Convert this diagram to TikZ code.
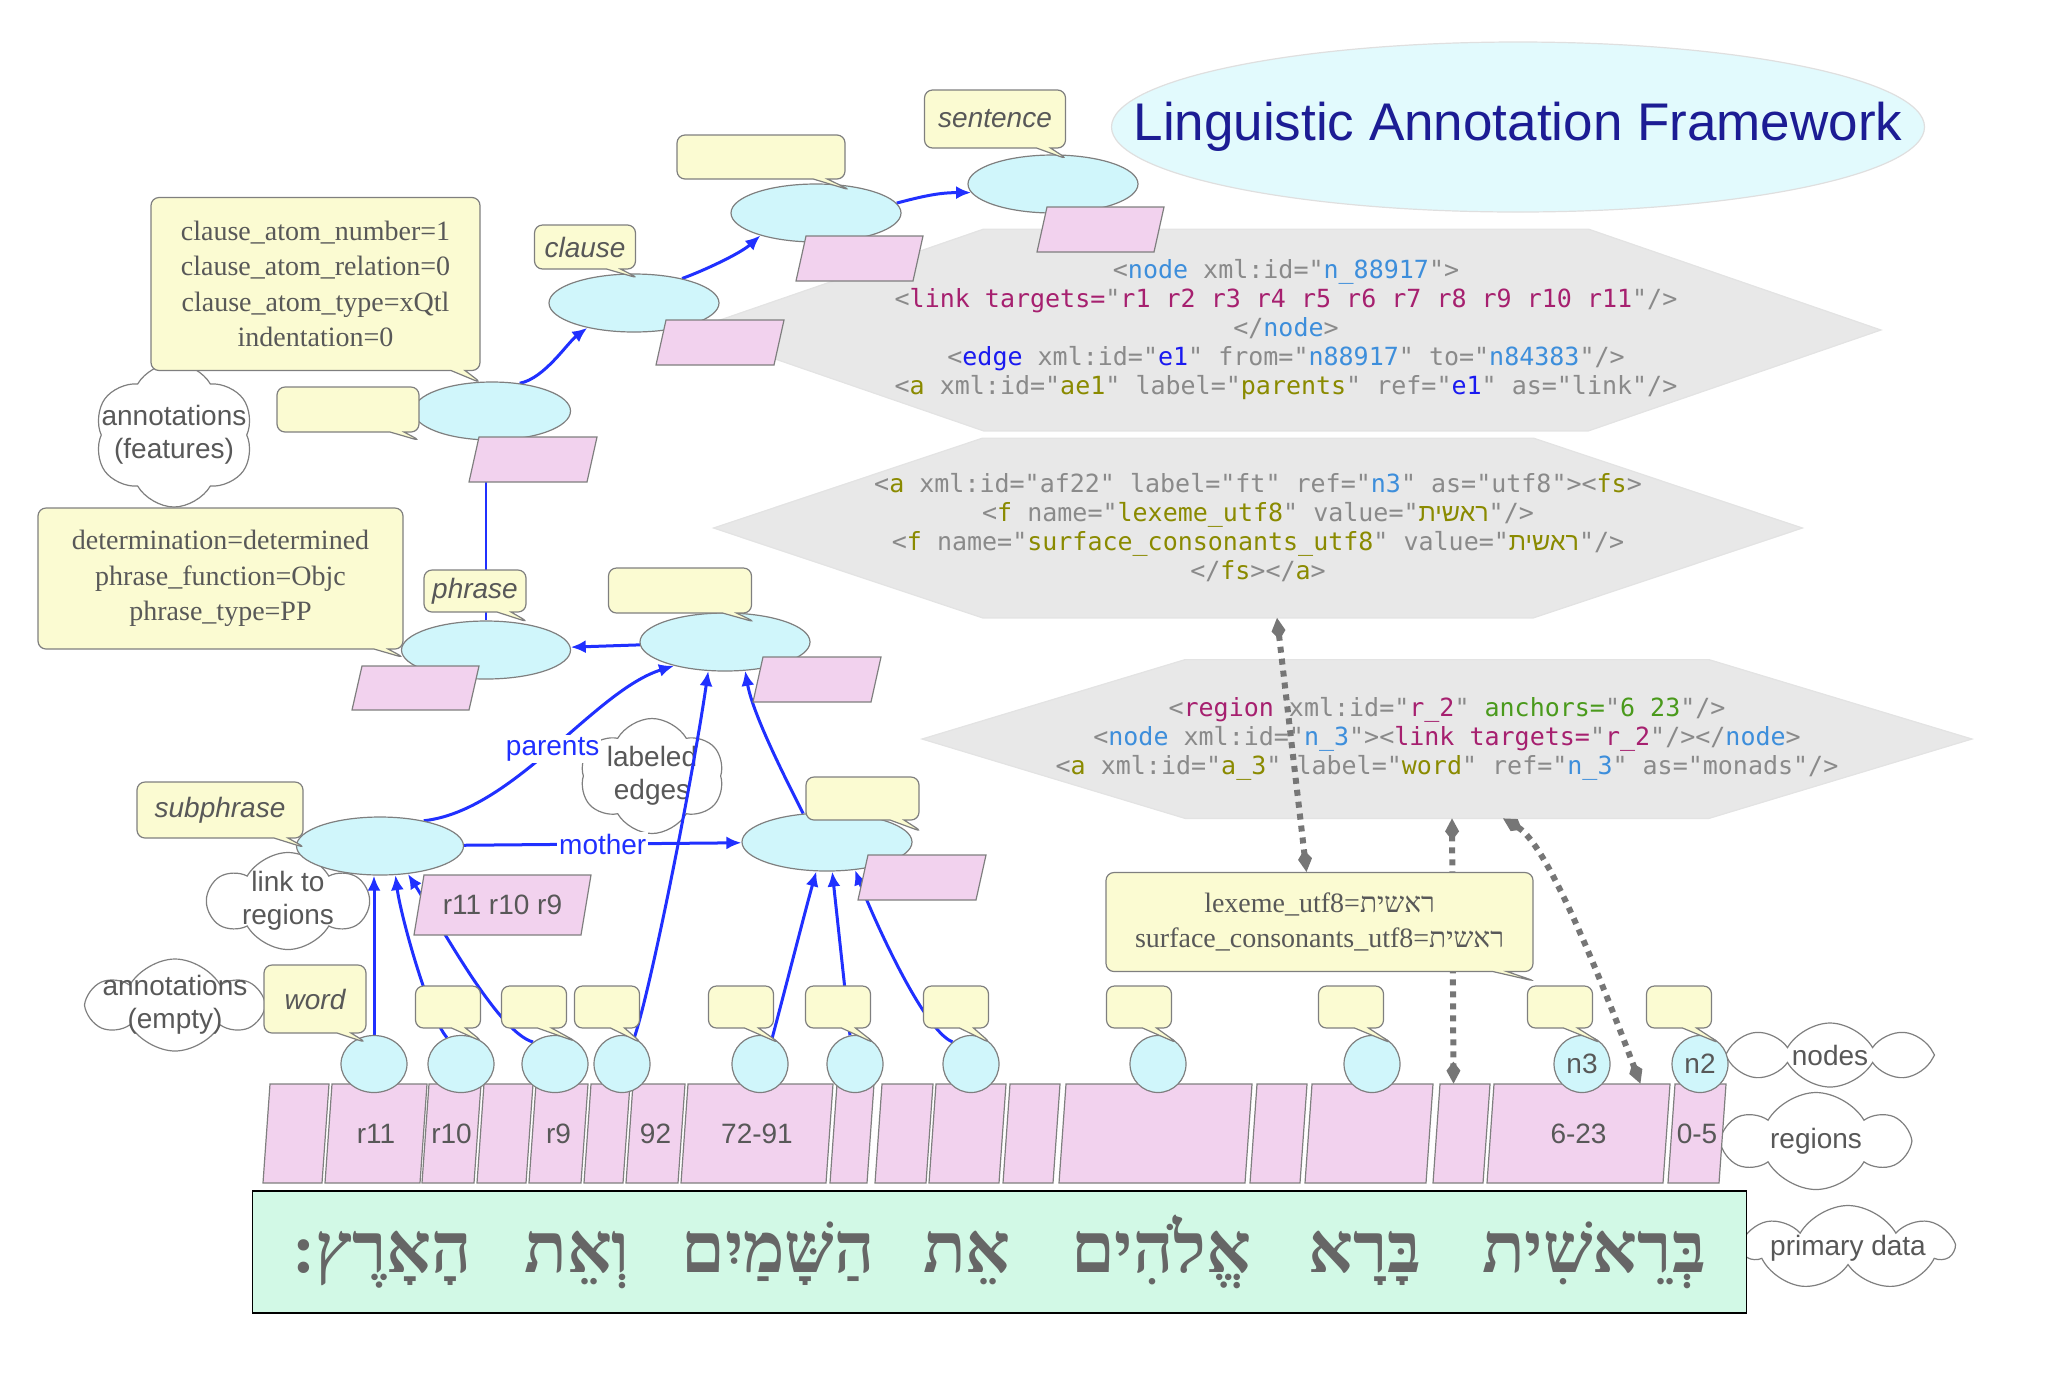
\documentclass[tikz,border=0pt]{standalone}
\usepackage{fontspec}
\setmainfont{Liberation Serif}
\setsansfont{Liberation Sans}
\setmonofont{DejaVu Sans Mono}
\newfontfamily\hebsans[Script=Hebrew]{Liberation Sans}
\newfontfamily\hebserif[Script=Hebrew]{Liberation Serif}
\TeXXeTstate=1
\usetikzlibrary{arrows.meta,positioning,shapes.geometric,shapes.symbols,shapes.callouts}

\pgfdeclarelayer{back}
\pgfdeclarelayer{mid}
\pgfdeclarelayer{wires}
\pgfdeclarelayer{front}
\pgfsetlayers{back,mid,wires,main,front}

\definecolor{nodecyan}{HTML}{D0F6FB}
\definecolor{annyellow}{HTML}{FBFBD2}
\definecolor{regpink}{HTML}{F2D2EE}
\definecolor{hexgray}{HTML}{E8E8E8}
\definecolor{titlecyan}{HTML}{E2FAFD}
\definecolor{textmint}{HTML}{D2F9E6}
\definecolor{rimgray}{HTML}{7F7F7F}
\definecolor{labgray}{HTML}{585858}
\definecolor{hebgray}{HTML}{666666}
\definecolor{edgeblue}{HTML}{2030FF}
\definecolor{titleblue}{HTML}{1C1C94}
\definecolor{dotgray}{HTML}{767676}
\definecolor{codegray}{HTML}{8A8A8A}
\definecolor{codeblue}{HTML}{3D8EDB}
\definecolor{codeedge}{HTML}{1A1AF0}
\definecolor{codemag}{HTML}{A6206F}
\definecolor{codeolive}{HTML}{8A8A00}
\definecolor{codegreen}{HTML}{4A9A1C}

\newcommand{\codeg}[1]{\textcolor{codegray}{#1}}
\newcommand{\codeb}[1]{\textcolor{codeblue}{#1}}
\newcommand{\codee}[1]{\textcolor{codeedge}{#1}}
\newcommand{\codem}[1]{\textcolor{codemag}{#1}}
\newcommand{\codeo}[1]{\textcolor{codeolive}{#1}}
\newcommand{\coden}[1]{\textcolor{codegreen}{#1}}
\newcommand{\rashit}{{\hebsans\beginR ראשית\endR}}

\begin{document}
\begin{tikzpicture}[x=0.5pt, y=-0.5pt, every node/.style={align=center},
  unit/.style={ellipse, draw=rimgray, fill=nodecyan, line width=0.6pt, minimum width=85pt, minimum height=29pt, inner sep=0pt},
  wordunit/.style={unit, minimum height=28.5pt, font=\sffamily\fontsize{14}{16}\selectfont, text=labgray},
  regshape/.style={draw=rimgray, fill=regpink, line width=0.6pt},
  regtext/.style={rectangle, inner sep=0pt, font=\sffamily\fontsize{14}{16}\selectfont, text=labgray},
  ann/.style={rectangle callout, rounded corners=4pt, draw=rimgray, fill=annyellow, line width=0.6pt, callout pointer width=7pt, inner sep=0pt, text=labgray},
  tag/.style={ann, font=\sffamily\itshape\fontsize{14}{16}\selectfont},
  feat/.style={ann, font=\rmfamily\fontsize{14}{17.8}\selectfont},
  note/.style={cloud, cloud puffs=6, cloud puff arc=120, cloud ignores aspect, draw=rimgray, fill=white, line width=0.6pt, inner sep=0pt},
  notetext/.style={text=labgray, font=\sffamily\fontsize{14}{16.5}\selectfont, align=center},
  xmlcode/.style={inner sep=0pt, font=\ttfamily\fontsize{12.5}{14.5}\selectfont},
  hexfill/.style={fill=hexgray, draw=gray!22, line width=0.6pt},
  blueedge/.style={draw=edgeblue, line width=1.5pt, -{Latex[length=7.5pt,width=6.5pt]}},
  edgetext/.style={fill=white, inner sep=1pt, text=edgeblue, font=\sffamily\fontsize{14}{16}\selectfont},
  anchorlink/.style={draw=dotgray, line width=3pt, dash pattern=on 3pt off 3pt, {Kite[length=11pt,width=7pt,inset=4.5pt]}-{Kite[length=11pt,width=7pt,inset=4.5pt]}},
  hebword/.style={anchor=base, inner sep=0pt, text=hebgray, font=\hebserif\bfseries\fontsize{35}{40}\selectfont}]
  \useasboundingbox (0,0) rectangle (2048,1383);

  \node[ellipse, fill=titlecyan, draw=gray!25, line width=0.6pt, minimum width=406.5pt, minimum height=85pt, inner sep=0pt,
    label={[text=titleblue, font=\sffamily\fontsize{26.5}{30}\selectfont]center:Linguistic Annotation Framework}] (title) at (1518,127) {};

  \begin{pgfonlayer}{mid}
  \node[xmlcode, minimum height=100.5pt] (hex1) at (1286,330)
    {\codeg{<}\codeb{node}\codeg{\ xml:id="}\codeb{n\_88917}\codeg{">}\\
     \codeg{<}\codem{link targets=}\codeg{"}\codem{r1 r2 r3 r4 r5 r6 r7 r8 r9 r10 r11}\codeg{"/>}\\
     \codeg{</}\codeb{node}\codeg{>}\\
     \codeg{<}\codee{edge}\codeg{\ xml:id="}\codee{e1}\codeg{" from="}\codeb{n88917}\codeg{" to="}\codeb{n84383}\codeg{"/>}\\
     \codeg{<}\codeo{a}\codeg{\ xml:id="}\codeo{ae1}\codeg{" label="}\codeo{parents}\codeg{" ref="}\codee{e1}\codeg{" as="link"/>}};
  \node[xmlcode, minimum height=89.5pt] (hex2) at (1258,528)
    {\codeg{<}\codeo{a}\codeg{\ xml:id="af22" label="ft" ref="}\codeb{n3}\codeg{" as="utf8"><}\codeo{fs}\codeg{>}\\
     \codeg{<}\codeo{f}\codeg{\ name="}\codeo{lexeme\_utf8}\codeg{" value="}\codeo{\rashit}\codeg{"/>}\\
     \codeg{<}\codeo{f}\codeg{\ name="}\codeo{surface\_consonants\_utf8}\codeg{" value="}\codeo{\rashit}\codeg{"/>}\\
     \codeg{</}\codeo{fs}\codeg{></}\codeo{a}\codeg{>}};
  \node[xmlcode, minimum height=79pt] (hex3) at (1447,739)
    {\codeg{<}\codem{region}\codeg{\ xml:id="}\codem{r\_2}\codeg{" }\coden{anchors=}\codeg{"}\coden{6 23}\codeg{"/>}\\
     \codeg{<}\codeb{node}\codeg{\ xml:id="}\codeb{n\_3}\codeg{"><}\codem{link targets=}\codeg{"}\codem{r\_2}\codeg{"/></}\codeb{node}\codeg{>}\\
     \codeg{<}\codeo{a}\codeg{\ xml:id="}\codeo{a\_3}\codeg{" label="}\codeo{word}\codeg{" ref="}\codeb{n\_3}\codeg{" as="monads"/>}};

  \node[note, minimum width=80pt, minimum height=72pt, label={[notetext]center:{annotations\\(features)}}] (featnote) at (174,435) {};
  \node[note, minimum width=72pt, minimum height=57.5pt, label={[notetext]center:{labeled\\edges}}] (edgenote) at (652,776) {};
  \node[note, minimum width=79pt, minimum height=48.5pt, label={[notetext]center:{link to\\regions}}] (regnote) at (288,901) {};
  \node[note, minimum width=85pt, minimum height=46pt, label={[notetext]center:{annotations\\(empty)}}] (emptynote) at (175,1005) {};
  \node[note, cloud puffs=8, minimum width=104.5pt, minimum height=32pt, label={[notetext]center:nodes}] (nodesnote) at (1830,1055) {};
  \node[note, minimum width=90pt, minimum height=48.5pt, label={[notetext]center:regions}] (regionsnote) at (1816,1141) {};
  \node[note, cloud puffs=7, minimum width=103.5pt, minimum height=42.5pt, label={[notetext]center:primary data}] (datanote) at (1848,1248) {};
  \end{pgfonlayer}

  \begin{pgfonlayer}{back}
  \foreach \h/\half/\tip in {hex1/151.25pt/297.5pt, hex2/137.75pt/272.25pt, hex3/131pt/262.5pt}
    \draw[hexfill] ([xshift=-\half]\h.north) -- ([xshift=\half]\h.north) -- ([xshift=\tip]\h.center)
      -- ([xshift=\half]\h.south) -- ([xshift=-\half]\h.south) -- ([xshift=-\tip]\h.center) -- cycle;
  \end{pgfonlayer}

  \node[unit] (sent) at (1053,184) {};
  \node[unit] (clsup) at (816,213) {};
  \node[unit] (clause) at (634,303) {};
  \node[unit, minimum width=78.5pt] (catom) at (492,411) {};
  \node[unit, minimum width=84.5pt] (phrase) at (486,650) {};
  \node[unit] (phrup) at (725,642) {};
  \node[unit, minimum width=83.5pt] (sub) at (380,846) {};
  \node[unit] (subup) at (827,842) {};

  \foreach \nm/\xa/\xb/\ya/\yb/\lab in {sentbox/1047/1164/207/252/{}, clsupbox/806/923/236/281/{}, clausebox/666/784/320/365/{}, catombox/479/597/437/482/{}, phrasebox/362/479/666/710/{}, phrupbox/763/881/657/702/{}, subbox/424/591/875/935/{r11 r10 r9}, subupbox/868/986/855/900/{}}
  {
    \path[regshape] (\xa,\ya) -- (\xb,\ya) -- (\xb-10,\yb) -- (\xa-10,\yb) -- cycle;
    \pgfmathsetmacro{\bx}{(\xa+\xb-10)/2}
    \pgfmathsetmacro{\by}{(\ya+\yb)/2}
    \node[regtext] (\nm) at (\bx,\by) {\lab};
  }

  \foreach \xa/\xb/\lab [count=\i] in {270/329/{}, 332/427/r11, 429/481/r10, 484/533/{}, 536/588/r9, 591/630/{}, 633/685/92, 688/833/72-91, 837/874/{}, 882/933/{}, 936/1006/{}, 1010/1060/{}, 1066/1252/{}, 1257/1307/{}, 1312/1433/{}, 1440/1490/{}, 1494/1670/6-23, 1675/1726/0-5}
  {
    \path[regshape] (\xa,1084) -- (\xb,1084) -- (\xb-7,1183) -- (\xa-7,1183) -- cycle;
    \pgfmathsetmacro{\bx}{(\xa+\xb-7)/2}
    \pgfmathsetmacro{\bw}{(\xb-\xa+7)/2}
    \node[regtext, minimum width=\bw pt, minimum height=49.5pt] (r\i) at (\bx,1133.5) {\lab};
  }

  \foreach \x/\w/\lab [count=\i] in {374/33/{}, 461/33/{}, 555/33/{}, 622/28/{}, 760/28/{}, 855/28/{}, 971/28/{}, 1158/28/{}, 1372/28/{}, 1582/28/n3, 1700/28/n2}
    \node[wordunit, minimum width=\w pt] (w\i) at (\x,1064) {\lab};

  \node[draw=black, fill=textmint, line width=0.9pt, minimum width=747pt, minimum height=61pt, inner sep=0pt] (source) at (999.5,1252) {};
  \foreach \x/\word [count=\i] in {1594/בְּרֵאשִׁית, 1365/בָּרָא, 1161/אֱלֹהִים, 967/אֵת, 778/הַשָּׁמַיִם, 577/וְאֵת, 382/הָאָרֶץ:}
    \node[hebword] (hw\i) at (\x,1272) {\beginR\word\endR};

  \begin{pgfonlayer}{front}
  \foreach \x/\t [count=\i] in {448/2, 534/3, 607/4, 741/5, 838/6, 956/7, 1139/8, 1351/9, 1560/10, 1679/11}
    \node[ann, minimum width=32.5pt, minimum height=21pt, callout absolute pointer={(w\t.45)}] (wa\i) at (\x,1007) {};

  \node[tag, minimum width=70.5pt, minimum height=29pt, callout absolute pointer={([xshift=7.5pt,yshift=-2.5pt]sent.north)}] (sentann) at (995,119) {sentence};
  \node[ann, minimum width=84pt, minimum height=22pt, callout absolute pointer={([xshift=17.5pt,yshift=-3.5pt]clsup.north)}] (clsupann) at (761,157) {};
  \node[tag, minimum width=50.5pt, minimum height=22pt, callout absolute pointer={([xshift=2.5pt,yshift=-2.5pt]clause.north)}] (clauseann) at (585,247) {clause};
  \node[feat, minimum width=164.5pt, minimum height=86.5pt, callout absolute pointer={([xshift=-5pt,yshift=-1pt]catom.north)}] (catomfeat) at (315.5,284)
    {clause\_atom\_number=1\\clause\_atom\_relation=0\\clause\_atom\_type=xQtl\\indentation=0};
  \node[ann, minimum width=71pt, minimum height=22.5pt, callout absolute pointer={([xshift=4pt,yshift=-15pt]catom.west)}] (catomann) at (348,409.5) {};
  \node[feat, minimum width=182.5pt, minimum height=70.5pt, callout absolute pointer={([xshift=2pt,yshift=-4pt]phrase.west)}] (phrasefeat) at (220.5,578.5)
    {determination=determined\\phrase\_function=Objc\\phrase\_type=PP};
  \node[tag, minimum width=51pt, minimum height=21pt, callout absolute pointer={([xshift=21.5pt,yshift=-1pt]phrase.north)}] (phraseann) at (475,591) {phrase};
  \node[ann, minimum width=71.5pt, minimum height=22.5pt, callout absolute pointer={([xshift=15.5pt,yshift=-5pt]phrup.north)}] (phrupann) at (680,590.5) {};
  \node[tag, minimum width=83pt, minimum height=28pt, callout absolute pointer={([xshift=5pt,yshift=-1pt]sub.west)}] (subann) at (220,810) {subphrase};
  \node[ann, minimum width=56.5pt, minimum height=21.5pt, callout absolute pointer={([xshift=5pt,yshift=5pt]subup.east)}] (subupann) at (862.5,798.5) {};
  \node[tag, minimum width=51pt, minimum height=34pt, callout absolute pointer={([xshift=-3.5pt,yshift=-4pt]w1.north)}] (wordann) at (315,999) {word};
  \node[feat, minimum width=213.5pt, minimum height=49.5pt, callout absolute pointer={([xshift=4.5pt,yshift=2pt]wa9.north west)}] (lexann) at (1319.5,922)
    {lexeme\_utf8={\hebserif\beginR ראשית\endR}\\surface\_consonants\_utf8={\hebserif\beginR ראשית\endR}};
  \end{pgfonlayer}

  \begin{pgfonlayer}{wires}
  \draw[blueedge] (catom.45) .. controls +(25,-5) and +(-20,15) .. (clause.208);
  \draw[blueedge] (clause.27) .. controls +(22,-8) and +(-20,18) .. (clsup.202);
  \draw[blueedge] (clsup.7) .. controls +(30,-8) and +(-30,0) .. (sent.186);
  \draw[edgeblue, line width=1.2pt] (phrase.north |- catom.south) -- (phrase.north);
  \draw[blueedge] (phrup) -- (phrase);
  \draw[blueedge] (sub.30) .. controls +(90,-10) and +(-80,25) .. node[edgetext] {parents} (phrup.205);
  \draw[blueedge] (sub) -- node[edgetext] {mother} (subup);
  \draw[blueedge] (w4.65) .. controls +(16,-47) and +(-16,110) .. (phrup.240);
  \draw[blueedge] (subup.130) .. controls +(-15,-30) and +(8,45) .. (phrup.305);
  \draw[blueedge] (w1.north) -- (w1.north |- sub.south);
  \draw[blueedge] (w2.118) .. controls +(-18,-20) and +(5,40) .. (sub.298);
  \draw[blueedge] (w3.135) .. controls +(-35,-10) and +(35,55) .. (sub.315);
  \draw[blueedge] (w5.65) .. controls +(12,-45) and +(-10,35) .. (subup.250);
  \draw[blueedge] (w6.100) -- (subup.280);
  \draw[blueedge] (w7.130) .. controls +(-30,-12) and +(15,40) .. (subup.315);
  \draw[anchorlink] ([xshift=9.5pt]hex2.south) -- ([xshift=-6.5pt]lexann.north);
  \draw[anchorlink] ([xshift=2.5pt]hex3.south) -- ([xshift=-4pt]r16.north);
  \draw[anchorlink] ([xshift=28pt]hex3.south) .. controls +(42,25) and +(-50,-132) .. ([xshift=-15pt]r17.north east);
  \end{pgfonlayer}
\end{tikzpicture}
\end{document}
